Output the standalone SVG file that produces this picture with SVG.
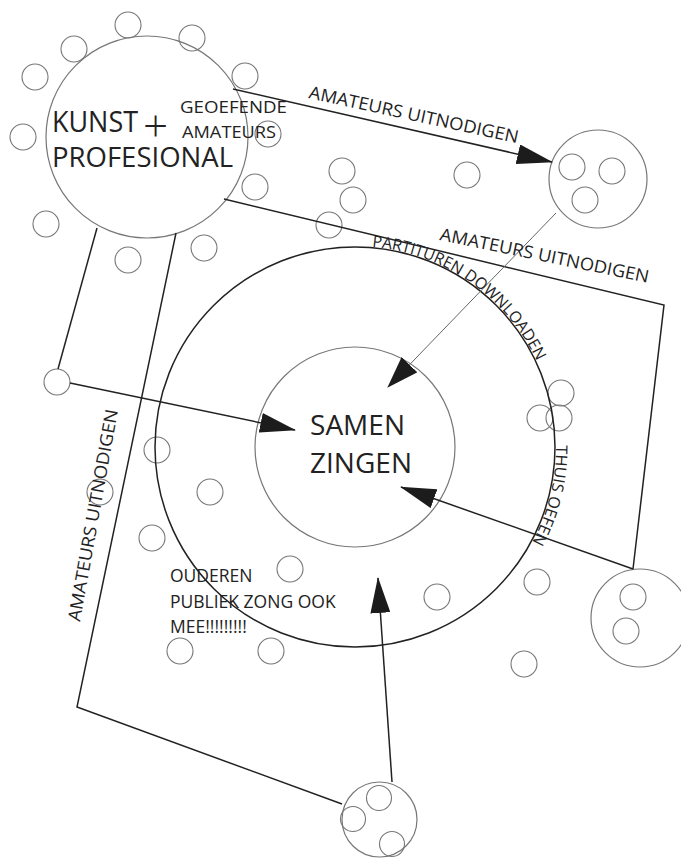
<svg xmlns="http://www.w3.org/2000/svg" width="681" height="858" viewBox="0 0 681 858">
<style>
  .bg{fill:#fff}
  .dot{fill:none;stroke:#777;stroke-width:1.1}
  .node{fill:none;stroke:#777;stroke-width:1.2}
  .ring{fill:none;stroke:#222;stroke-width:1.5}
  .line{fill:none;stroke:#222;stroke-width:1.5}
  .thin{fill:none;stroke:#666;stroke-width:1}
  text{font-family:"Open Sans","Liberation Sans",sans-serif;fill:#222}
  .lbl{font-size:17.5px}
  .cap{font-size:16px}
  .big{font-size:28px}
  .mid{font-size:17px}
</style>
<defs>
  <marker id="arr" viewBox="0 0 36 20" refX="35" refY="10" markerWidth="36" markerHeight="20" markerUnits="userSpaceOnUse" orient="auto">
    <path d="M0,0 L36,10 L0,20 z" fill="#1c1c1c"/>
  </marker>
  <marker id="arrw" viewBox="0 0 32 22" refX="31" refY="11" markerWidth="32" markerHeight="22" markerUnits="userSpaceOnUse" orient="auto">
    <path d="M0,0 L32,11 L0,22 z" fill="#1c1c1c"/>
  </marker>
  <path id="ringPath" d="M355,246 A201,201 0 0 1 556,447 A201,201 0 0 1 355,648 A201,201 0 0 1 154,447 A201,201 0 0 1 355,246"/>
</defs>
<rect class="bg" x="0" y="0" width="681" height="858"/>

<g id="dots">
  <circle class="dot" cx="128" cy="25" r="13"/>
  <circle class="dot" cx="74" cy="49" r="13"/>
  <circle class="dot" cx="192" cy="38" r="13"/>
  <circle class="dot" cx="35" cy="77" r="13"/>
  <circle class="dot" cx="245" cy="76" r="13"/>
  <circle class="dot" cx="23" cy="137" r="13"/>
  <circle class="dot" cx="268" cy="134" r="13"/>
  <circle class="dot" cx="255" cy="187" r="13"/>
  <circle class="dot" cx="46" cy="224" r="13"/>
  <circle class="dot" cx="128" cy="260" r="13"/>
  <circle class="dot" cx="204" cy="248" r="13"/>
  <circle class="dot" cx="342" cy="171" r="13"/>
  <circle class="dot" cx="353" cy="200" r="13"/>
  <circle class="dot" cx="329" cy="225" r="13"/>
  <circle class="dot" cx="467" cy="175" r="13"/>
  <circle class="dot" cx="561" cy="393" r="13"/>
  <circle class="dot" cx="540" cy="418" r="13"/>
  <circle class="dot" cx="559" cy="418" r="13"/>
  <circle class="dot" cx="157" cy="450" r="13"/>
  <circle class="dot" cx="100" cy="492" r="13"/>
  <circle class="dot" cx="210" cy="492" r="13"/>
  <circle class="dot" cx="152" cy="538" r="13"/>
  <circle class="dot" cx="290" cy="569" r="13"/>
  <circle class="dot" cx="437" cy="597" r="13"/>
  <circle class="dot" cx="537" cy="582" r="13"/>
  <circle class="dot" cx="524" cy="664" r="13"/>
  <circle class="dot" cx="180" cy="651" r="13"/>
  <circle class="dot" cx="271" cy="651" r="13"/>
</g>

<g id="samen-zingen">
  <circle class="ring" cx="355" cy="447" r="200"/>
  <circle class="node" cx="355" cy="447" r="100"/>
  <text class="big" x="310" y="435" textLength="95">SAMEN</text>
  <text class="big" x="310" y="473" textLength="102">ZINGEN</text>
</g>

<g id="kunst">
  <circle class="node" cx="147" cy="137" r="101"/>
  <text x="52" y="132" style="font-size:29px" textLength="86" lengthAdjust="spacingAndGlyphs">KUNST</text>
  <text x="155.5" y="142" style="font-size:44px;font-weight:300" text-anchor="middle">+</text>
  <text x="52" y="167" style="font-size:28px" textLength="181" lengthAdjust="spacingAndGlyphs">PROFESIONAL</text>
  <text class="mid" x="180" y="113" textLength="107" lengthAdjust="spacingAndGlyphs">GEOEFENDE</text>
  <text class="mid" x="182" y="138" textLength="94" lengthAdjust="spacingAndGlyphs">AMATEURS</text>
</g>

<g id="node-topright">
  <circle class="node" cx="598" cy="179" r="49"/>
  <circle class="dot" cx="572" cy="167" r="13"/>
  <circle class="dot" cx="612" cy="171" r="13"/>
  <circle class="dot" cx="585" cy="200" r="13"/>
</g>

<g id="node-bottomright">
  <circle class="node" cx="640" cy="618" r="49"/>
  <circle class="dot" cx="633" cy="597" r="13"/>
  <circle class="dot" cx="626" cy="631" r="13"/>
</g>

<g id="node-bottom">
  <circle class="node" cx="379.5" cy="819.5" r="37.5"/>
  <circle class="dot" cx="379" cy="798" r="12.5"/>
  <circle class="dot" cx="353" cy="819" r="12.5"/>
  <circle class="dot" cx="392" cy="844" r="12.5"/>
</g>

<g id="node-left">
  <circle class="dot" cx="57" cy="382" r="13"/>
</g>

<g id="connectors">
  <line class="line" x1="233" y1="89" x2="552" y2="162" marker-end="url(#arr)"/>
  <polyline class="line" points="224,199 664,305 633,569"/>
  <line class="line" x1="633" y1="569" x2="401" y2="487" marker-end="url(#arr)"/>
  <line class="thin" x1="556" y1="213" x2="388" y2="387" marker-end="url(#arrw)"/>
  <line class="line" x1="97" y1="228" x2="58" y2="369"/>
  <line class="line" x1="70" y1="383" x2="295" y2="430" marker-end="url(#arr)"/>
  <polyline class="line" points="176,233 77,707 342,804"/>
  <line class="line" x1="392" y1="782" x2="378" y2="578" marker-end="url(#arr)"/>
</g>

<g id="labels">
  <text class="lbl" transform="translate(308,98) rotate(12.2)" textLength="214" lengthAdjust="spacingAndGlyphs">AMATEURS UITNODIGEN</text>
  <text class="lbl" transform="translate(439,240) rotate(11.6)" textLength="213" lengthAdjust="spacingAndGlyphs">AMATEURS UITNODIGEN</text>
  <text class="lbl" transform="translate(80,622) rotate(-79.8)" textLength="215" lengthAdjust="spacingAndGlyphs">AMATEURS UITNODIGEN</text>
  <text class="cap"><textPath href="#ringPath" startOffset="17" textLength="210" lengthAdjust="spacingAndGlyphs">PARTITUREN DOWNLOADEN</textPath></text>
  <text class="cap"><textPath href="#ringPath" startOffset="314" textLength="101" lengthAdjust="spacingAndGlyphs">THUIS OEFEN</textPath></text>
  <text class="lbl" x="170" y="582">OUDEREN</text>
  <text class="lbl" x="170" y="608">PUBLIEK ZONG OOK</text>
  <text class="lbl" x="170" y="633">MEE!!!!!!!!!</text>
</g>
</svg>
